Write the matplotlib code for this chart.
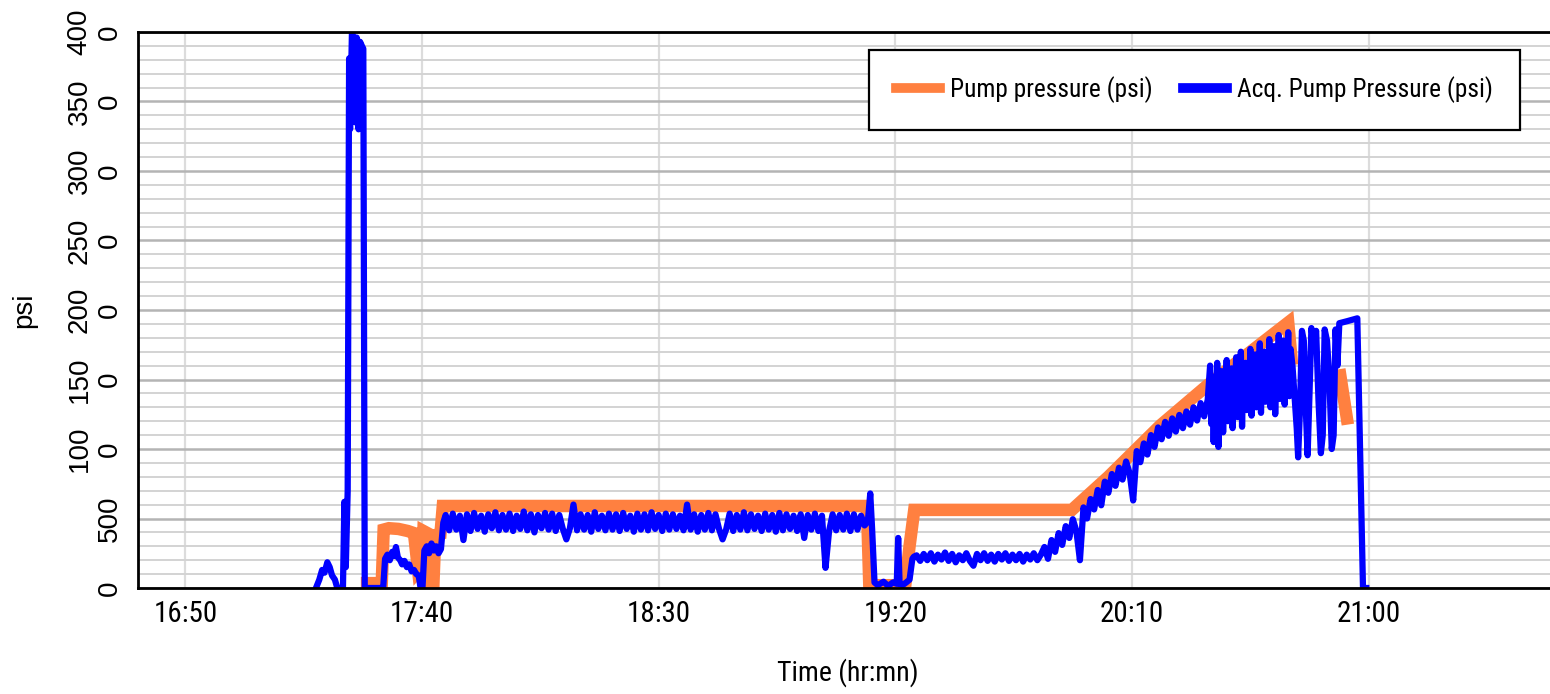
import os
import numpy as np
import matplotlib
matplotlib.use("Agg")
import matplotlib.pyplot as plt
from matplotlib import font_manager as fm

plt.rcParams["path.simplify"] = False

# time is in minutes after 16:00
x_ticks = [50, 100, 150, 200, 250, 300]
x_tick_labels = ["16:50", "17:40", "18:30", "19:20", "20:10", "21:00"]
y_ticks = [0, 500, 1000, 1500, 2000, 2500, 3000, 3500, 4000]
y_tick_labels = ["0", "500", "100\n0", "150\n0", "200\n0", "250\n0",
                 "300\n0", "350\n0", "400\n0"]

# Pump pressure (psi); no trace while the acquisition swings at the end
pump_t = [88.4, 91.5, 91.9, 93.0, 95.0, 97.0, 98.3, 99.2, 100.0, 100.3, 101.4,
          101.8, 102.4, 102.8, 103.9, 104.4, 194.0, 194.5, 202.1, 203.0, 204.0,
          237.3, 245.0, 256.0, 266.0, 283.0, 283.7, 283.9, 294.0, 295.4]
pump_psi = [35, 35, 420, 430, 425, 410, 395, 120, 150, 410, 390,
            20, 20, 380, 390, 590, 590, 20, 20, 300, 562,
            562, 800, 1170, 1460, 1910, 1650, np.nan, 1530, 1220]

# Acq. pump pressure (psi): spot readings plus stretches logged at a fixed step
acq_start_t = [77.6, 78.3, 78.9, 79.4, 80.0, 80.5, 81.0, 81.6, 82.1, 83.3,
               83.6, 83.9, 84.3, 84.6, 84.8, 85.2, 85.5, 85.9, 86.2, 86.6, 86.9,
               87.3, 87.6, 87.9, 91.4, 91.8, 92.2, 92.7, 93.2, 93.7, 94.1, 94.5,
               94.9, 95.4, 95.8, 96.3, 96.8, 97.3, 97.8, 98.3, 98.8, 99.3, 99.7,
               100.1, 100.5, 101.0, 101.5, 102.0, 102.5, 103.0, 103.5, 104.0, 104.5]
acq_start_psi = [0, 60, 130, 110, 185, 150, 90, 60, 0, 0,
                 620, 150, 700, 3810, 3300, 4000, 3950, 3350, 3960, 3300, 3930,
                 3900, 3880, 0, 0, 0, 210, 240, 200, 260, 230, 295,
                 220, 200, 170, 195, 150, 170, 120, 130, 100, 90, 0,
                 0, 270, 300, 250, 320, 270, 300, 250, 280, 470]

acq_step = 0.75
acq_plateau1_t0 = 105.0
acq_plateau1_psi = [
    525, 415, 535, 420, 520, 345, 530, 410, 540, 425,
    520, 405, 530, 430, 545, 415, 525, 420, 535, 410,
    520, 425, 550, 415, 530, 400, 525, 430, 540, 420,
    535, 410, 525, 425, 350, 430, 600, 415, 530, 420,
    525, 405, 545, 425, 520, 415, 535, 420, 530, 410,
    540, 425, 520, 405, 535, 420, 530, 415, 545, 425,
    525, 410, 535, 420, 530, 425, 520, 415, 600, 420,
    530, 405, 525, 420, 540, 415, 530, 425, 350, 420,
    535, 410, 525, 420, 545, 415, 530, 425, 520, 410,
    535, 420, 525, 405, 540, 415, 530, 425, 520, 410,
    530, 360, 525, 420, 535, 410, 520, 145, 410, 530,
    415, 525, 420, 535, 410, 530, 420, 520]

acq_mid_t = [193.5, 194.2, 194.7, 195.1, 195.6, 196.3, 197.5, 198.5, 199.5,
             200.3, 200.6, 200.9, 201.5, 202.3, 203.0, 203.6, 203.9]
acq_mid_psi = [450, 480, 680, 420, 40, 20, 45, 15, 40,
               30, 360, 30, 20, 40, 60, 210, 225]

acq_plateau2_t0 = 204.5
acq_plateau2_psi = [
    235, 195, 245, 200, 250, 190, 240, 205, 255, 195, 245, 185,
    235, 200, 250, 195, 160, 245, 200, 250, 195, 240, 190, 245,
    205, 250, 195, 240, 200, 245, 190, 240, 205, 250, 200, 240]

acq_ramp_t0 = 231.5
acq_ramp_psi = [
    295, 210, 345, 260, 395, 310, 445, 360, 495, 410,
    200, 580, 500, 640, 565, 705, 595, 765, 685, 820,
    735, 865, 780, 910, 825, 630, 985, 905, 1040, 960,
    1100, 1015, 1155, 1070, 1195, 1095, 1220, 1125, 1245, 1150,
    1270, 1175, 1300, 1205, 1330, 1235, 1355]

acq_noisy_step = 0.25
acq_noisy_t0 = 266.5
acq_noisy_psi = [
    1600, 1180, 1520, 1050, 1460, 1300, 1620, 1015, 1400, 1250,
    1560, 1120, 1480, 1350, 1640, 1200, 1420, 1280, 1580, 1150,
    1500, 1380, 1660, 1230, 1450, 1320, 1700, 1160, 1530, 1400,
    1620, 1280, 1480, 1360, 1720, 1240, 1560, 1420, 1680, 1300,
    1500, 1440, 1760, 1260, 1600, 1380, 1700, 1340, 1540, 1460,
    1790, 1300, 1620, 1420, 1740, 1250, 1580, 1480, 1820, 1360,
    1650, 1400, 1780, 1320, 1700, 1500, 1840, 1380, 1720]

acq_end_t = [283.9, 284.4, 284.8, 285.1, 285.5, 285.9, 286.3, 286.7, 287.1,
             287.5, 287.9, 288.4, 288.9, 289.4, 289.9, 290.3, 290.7, 291.2,
             291.7, 292.2, 292.6, 293.0, 293.4, 293.8, 295.5, 297.6, 298.8, 299.5]
acq_end_psi = [1600, 1350, 1150, 940, 1300, 1850, 1780, 1300, 955,
               1400, 1870, 1760, 1850, 1350, 970, 1100, 1860, 1780,
               1500, 1000, 1100, 1860, 1600, 1905, 1920, 1940, 0, 0]


def logged(t0, step, values):
    return list(t0 + step * np.arange(len(values)))


acq_t = (acq_start_t
         + logged(acq_plateau1_t0, acq_step, acq_plateau1_psi)
         + acq_mid_t
         + logged(acq_plateau2_t0, acq_step, acq_plateau2_psi)
         + logged(acq_ramp_t0, acq_step, acq_ramp_psi)
         + logged(acq_noisy_t0, acq_noisy_step, acq_noisy_psi)
         + acq_end_t)
acq_psi = (acq_start_psi + acq_plateau1_psi + acq_mid_psi + acq_plateau2_psi
           + acq_ramp_psi + acq_noisy_psi + acq_end_psi)


def narrow_font(size):
    """A condensed sans face if one is installed, else plain Liberation Sans."""
    wanted = [("liberationsansnarrow-regular", 1.0), ("arialnarrow", 1.0),
              ("robotocondensed-regular", 0.95), ("dejavusanscondensed.ttf", 0.86),
              ("notosans-condensed.ttf", 0.9), ("notosans-condensedregular", 0.9)]
    files = [f.fname for f in fm.fontManager.ttflist]
    for key, k in wanted:
        for f in files:
            if os.path.basename(f).lower() == key or os.path.basename(f).lower().startswith(key):
                return fm.FontProperties(fname=f, size=size * k)
    return fm.FontProperties(family=["Liberation Sans", "DejaVu Sans"], size=size * 0.85)


plain = ["Liberation Sans", "DejaVu Sans"]

fig = plt.figure(figsize=(15.5, 6.94), dpi=100)
ax = fig.add_axes([138 / 1550, 106 / 694, 1420 / 1550, 556 / 694])

ax.plot(pump_t, pump_psi, color="#ff8040", lw=9, solid_joinstyle="miter",
        label="Pump pressure (psi)", zorder=2)
ax.plot(acq_t, acq_psi, color="#0000ff", lw=4.5,
        label="Acq. Pump Pressure (psi)", zorder=3)

ax.set_xlim(40, 340)
ax.set_ylim(0, 4000)
ax.set_xticks(x_ticks)
ax.set_xticklabels(x_tick_labels, fontproperties=narrow_font(22))
ax.set_yticks(y_ticks)
ax.set_yticklabels(y_tick_labels, family=plain, fontsize=20, rotation=90,
                   va="center", multialignment="center", linespacing=1.2)
ax.set_yticks(np.arange(0, 4001, 100), minor=True)
ax.tick_params(axis="both", which="both", length=0)
ax.tick_params(axis="x", pad=9)
ax.tick_params(axis="y", pad=11)

ax.set_axisbelow(True)
ax.grid(axis="x", which="major", color="#dcdcdc", lw=1.6)
ax.grid(axis="y", which="major", color="#b4b4b4", lw=1.8)
ax.grid(axis="y", which="minor", color="#d3d3d3", lw=1.4)

for side in ("left", "top", "bottom"):
    ax.spines[side].set_color("black")
    ax.spines[side].set_linewidth(2.0)
    ax.spines[side].set_zorder(5)
ax.spines["right"].set_visible(False)

ax.set_xlabel("Time (hr:mn)", fontproperties=narrow_font(21))
ax.xaxis.set_label_coords(0.5, -0.127)
ax.xaxis.label.set_va("top")
ax.set_ylabel("psi", family=plain, fontsize=20)
ax.yaxis.set_label_coords(-0.071, 0.5)

leg = ax.legend(loc="upper right", bbox_to_anchor=(0.973, 0.968), ncol=2,
                prop=narrow_font(19.2), frameon=True,
                fancybox=False, framealpha=1, edgecolor="black",
                borderaxespad=0, borderpad=1.05, handlelength=1.72,
                handletextpad=0.4, columnspacing=1.22)
leg.get_frame().set_linewidth(1.6)
for line in leg.get_lines():
    line.set_linewidth(7)

fig.savefig("out.png", dpi=100, facecolor="white")
